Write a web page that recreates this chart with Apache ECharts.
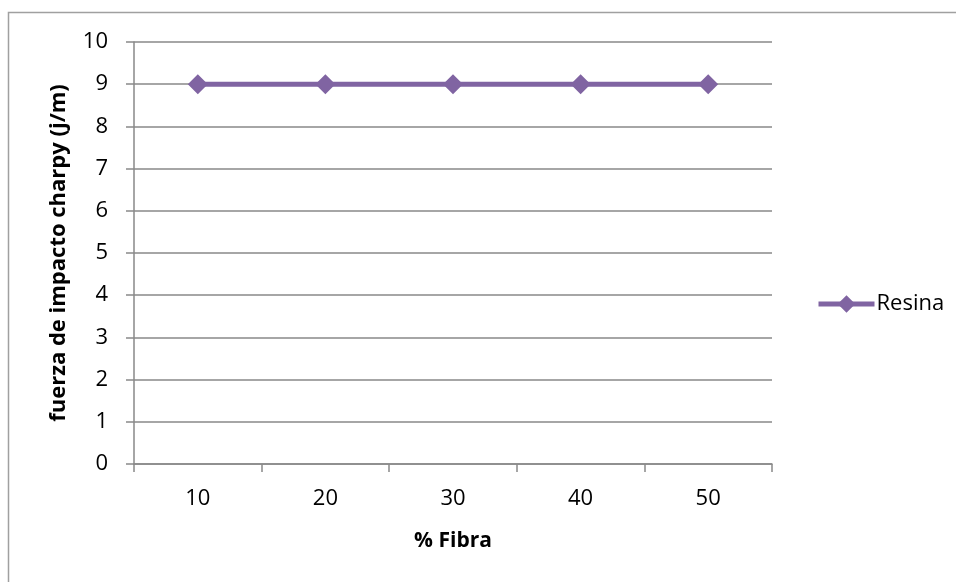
<!DOCTYPE html>
<html>
<head>
<meta charset="utf-8">
<script src="https://cdn.jsdelivr.net/npm/echarts@6/dist/echarts.min.js"></script>
<style>
  html, body { margin: 0; padding: 0; background: #fff; }
  #chart { width: 956px; height: 582px; }
</style>
</head>
<body>
<div id="chart"></div>
<script>
// Impact strength (Charpy) of the resin at each fibre percentage
const categories = ['10', '20', '30', '40', '50'];
const resinaValues = [9, 9, 9, 9, 9];
const seriesName = 'Resina';
const yTitle = 'fuerza de impacto charpy (j/m)';
const xTitle = '% Fibra';

const FONT = '"Open Sans", "Liberation Sans", sans-serif';
const GRID_COLOR = '#898989';
const PURPLE = '#8064A2';

const chart = echarts.init(document.getElementById('chart'));
chart.setOption({
  animation: false,
  backgroundColor: '#fff',
  graphic: [{
    type: 'rect',
    shape: { x: 8.5, y: 12.5, width: 1000, height: 1000 },
    style: { fill: 'none', stroke: '#a0a0a0', lineWidth: 1.5 },
    silent: true
  }],
  grid: { left: 134, right: 184, top: 42, bottom: 118, containLabel: false },
  legend: {
    orient: 'vertical',
    left: 811,
    top: 288,
    itemWidth: 56,
    itemHeight: 22,
    itemGap: 4,
    lineStyle: { width: 5 },
    textStyle: { fontFamily: FONT, fontSize: 22, color: '#000', padding: [0, 0, 0, -3] },
    data: [seriesName]
  },
  xAxis: {
    type: 'category',
    data: categories,
    boundaryGap: true,
    name: xTitle,
    nameLocation: 'middle',
    nameGap: 67,
    nameTextStyle: { fontFamily: FONT, fontSize: 21, fontWeight: 'bold', color: '#000' },
    axisLine: { lineStyle: { color: GRID_COLOR, width: 1.5 } },
    axisTick: { show: true, alignWithLabel: false, length: 8, lineStyle: { color: GRID_COLOR, width: 1.5 } },
    axisLabel: { fontFamily: FONT, fontSize: 22, color: '#000', margin: 24 },
    splitLine: { show: false }
  },
  yAxis: {
    type: 'value',
    min: 0,
    max: 10,
    interval: 1,
    name: yTitle,
    nameLocation: 'middle',
    nameGap: 64,
    nameRotate: 90,
    nameTextStyle: { fontFamily: FONT, fontSize: 22, fontWeight: 'bold', color: '#000' },
    axisLine: { show: true, lineStyle: { color: GRID_COLOR, width: 1.5 } },
    axisTick: { show: true, length: 8, lineStyle: { color: GRID_COLOR, width: 1.5 } },
    axisLabel: { fontFamily: FONT, fontSize: 22, color: '#000', margin: 26 },
    splitLine: { show: true, lineStyle: { color: GRID_COLOR, width: 1.5 } }
  },
  series: [{
    name: seriesName,
    type: 'line',
    data: resinaValues,
    color: PURPLE,
    symbol: 'diamond',
    symbolSize: 20,
    lineStyle: { color: PURPLE, width: 5 },
    itemStyle: { color: PURPLE }
  }]
});
</script>
</body>
</html>
